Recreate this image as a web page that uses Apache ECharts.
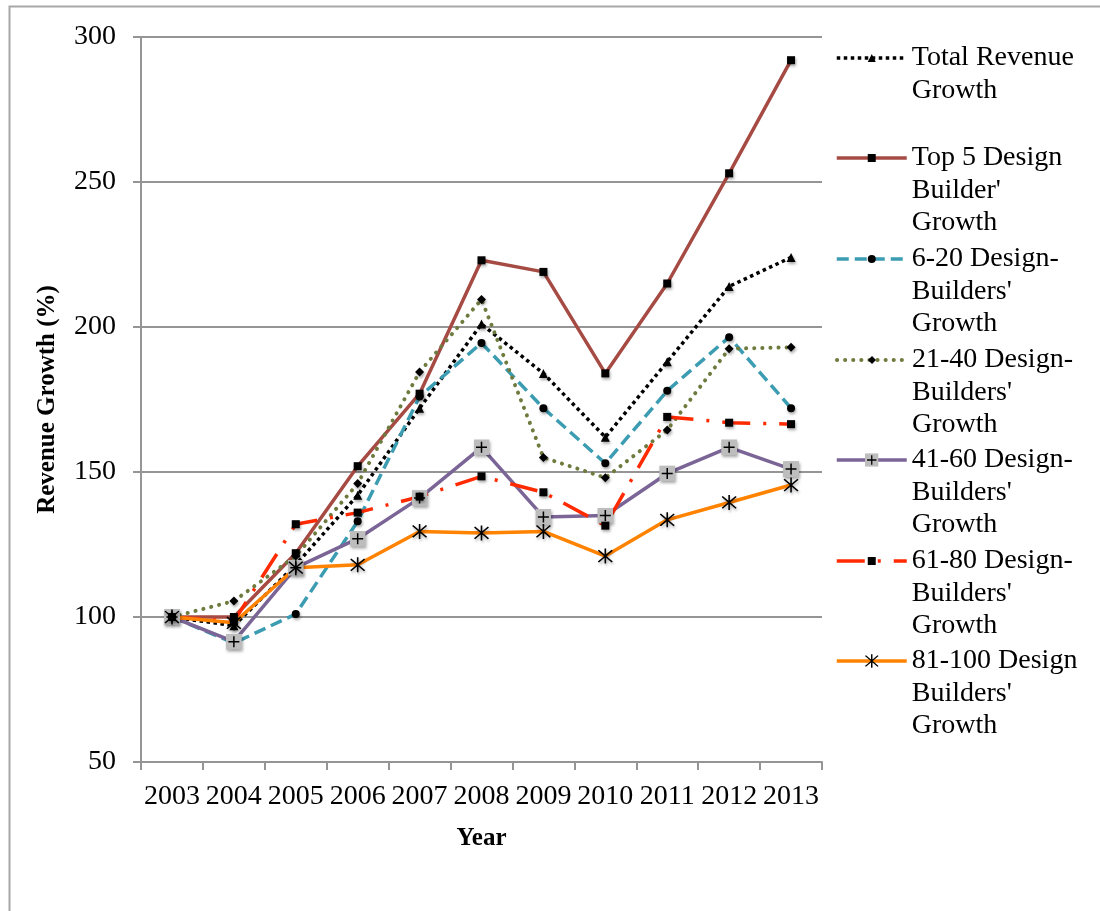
<!DOCTYPE html>
<html>
<head>
<meta charset="utf-8">
<script src="https://cdn.jsdelivr.net/npm/echarts@6/dist/echarts.min.js"></script>
<style>
  html, body { margin: 0; padding: 0; background: #ffffff; }
  #chart { width: 1100px; height: 911px; }
</style>
</head>
<body>
<div id="chart"></div>
<script>
// Revenue growth index (2003 = 100) by design-builder ranking group
const years = ['2003', '2004', '2005', '2006', '2007', '2008', '2009', '2010', '2011', '2012', '2013'];
const yTicks = { min: 50, max: 300, step: 50 };

const totalRevenue = [100, 97, 118, 142, 172, 201, 184, 162, 188, 214, 224];
const top5 = [100, 100, 122, 152, 177, 223, 219, 184, 215, 253, 292];
const rank6to20 = [100, 91, 101, 133, 176, 194.5, 172, 153, 178, 196.5, 172];
const rank21to40 = [100, 105.5, 121, 146, 184.5, 209.5, 155, 148, 164.5, 192.5, 193];
const rank41to60 = [100, 91.5, 117, 127, 141, 158.5, 134.5, 135, 149.5, 158.5, 151];
const rank61to80 = [100, 98.5, 132, 136, 141.5, 148.5, 143, 131.5, 169, 167, 166.5];
const rank81to100 = [100, 98, 117, 118, 129.5, 129, 129.5, 121, 133.5, 139.5, 145.5];

// Legend labels, one entry per wrapped line
const labelTotal = ['Total Revenue', 'Growth'];
const labelTop5 = ['Top 5 Design', "Builder'", 'Growth'];
const label6to20 = ['6-20 Design-', "Builders'", 'Growth'];
const label21to40 = ['21-40 Design-', "Builders'", 'Growth'];
const label41to60 = ['41-60 Design-', "Builders'", 'Growth'];
const label61to80 = ['61-80 Design-', "Builders'", 'Growth'];
const label81to100 = ['81-100 Design', "Builders'", 'Growth'];

const xAxisTitle = 'Year';
const yAxisTitle = 'Revenue Growth (%)';

const SERIF = '"Liberation Serif", "Times New Roman", serif';

// Marker shapes
const plusBoxSvg = "<svg xmlns='http://www.w3.org/2000/svg' width='32' height='32'>" +
  "<rect x='0' y='0' width='32' height='32' fill='#bdbdbd'/>" +
  "<path d='M16 5V27M5 16H27' stroke='#000' stroke-width='3'/></svg>";
const plusBoxSymbol = 'image://data:image/svg+xml;charset=utf-8,' + encodeURIComponent(plusBoxSvg);
const asteriskSymbol = 'path://M9.1,0L10.9,0L10.9,20L9.1,20Z' +
  'M2.8,1.5L18.5,17.2L17.2,18.5L1.5,2.8Z' +
  'M17.2,1.5L18.5,2.8L2.8,18.5L1.5,17.2Z';

const markerShadow = {
  shadowBlur: 3,
  shadowColor: 'rgba(0,0,0,0.35)',
  shadowOffsetX: 1,
  shadowOffsetY: 2
};

const groups = [
  { label: labelTotal, data: totalRevenue, color: '#000000', dash: [3.5, 3.5], cap: 'butt', width: 3.5,
    symbol: 'triangle', size: 9, legendH: 10 },
  { label: labelTop5, data: top5, color: '#a64b44', dash: 'solid', cap: 'butt', width: 3.5,
    symbol: 'rect', size: 8, legendH: 10 },
  { label: label6to20, data: rank6to20, color: '#3b9cb2', dash: [12, 6], cap: 'butt', width: 3.5,
    symbol: 'circle', size: 8, legendH: 10 },
  { label: label21to40, data: rank21to40, color: '#6e7b3f', dash: [0.1, 8], cap: 'round', width: 4,
    symbol: 'diamond', size: 9, legendH: 10 },
  { label: label41to60, data: rank41to60, color: '#7a6596', dash: 'solid', cap: 'butt', width: 3.5,
    symbol: plusBoxSymbol, size: 16, legendH: 17 },
  { label: label61to80, data: rank61to80, color: '#ff2a00', dash: [28, 13, 3, 13], cap: 'butt', width: 3.5,
    symbol: 'rect', size: 8, legendH: 10 },
  { label: label81to100, data: rank81to100, color: '#ff8200', dash: 'solid', cap: 'butt', width: 3.5,
    symbol: asteriskSymbol, size: 15, legendH: 17 }
];

const LEGEND_LINE_H = 32.5;
const LEGEND_TEXT_PAD = 5;
const legendIconY = [58, 158, 259, 360, 460, 561, 661];

const series = groups.map(g => ({
  name: g.label.join(' '),
  type: 'line',
  data: g.data,
  symbol: g.symbol,
  symbolSize: g.size,
  showSymbol: true,
  showAllSymbol: true,
  lineStyle: { color: g.color, width: g.width, type: g.dash, cap: g.cap, join: 'round' },
  itemStyle: Object.assign({ color: '#000000', borderWidth: 0 }, markerShadow),
  emphasis: { disabled: true },
  animation: false
}));

// One legend block per group so each icon lines up with the first text line
const legends = groups.map((g, i) => {
  const n = g.label.length;
  const text = '\n'.repeat(n - 1) + g.label.join('\n');
  return {
    data: [g.label.join(' ')],
    orient: 'vertical',
    left: 835,
    top: legendIconY[i] - ((2 * n - 1) * LEGEND_LINE_H + LEGEND_TEXT_PAD) / 2,
    padding: 0,
    itemGap: 0,
    itemWidth: 70,
    itemHeight: g.legendH,
    selectedMode: false,
    itemStyle: { shadowBlur: 0, shadowOffsetX: 0, shadowOffsetY: 0 },
    lineStyle: { width: g.width },
    formatter: () => text,
    textStyle: {
      fontFamily: SERIF,
      fontSize: 28,
      lineHeight: LEGEND_LINE_H,
      padding: [LEGEND_TEXT_PAD, 0, 0, 0],
      color: '#000000'
    }
  };
});

const axisGray = '#959595';

const option = {
  backgroundColor: '#ffffff',
  animation: false,
  grid: { left: 141, right: 278, top: 37, bottom: 149, containLabel: false },
  legend: legends,
  xAxis: {
    type: 'category',
    data: years,
    boundaryGap: true,
    name: xAxisTitle,
    nameLocation: 'middle',
    nameGap: 64,
    nameTextStyle: { fontFamily: SERIF, fontSize: 25, fontWeight: 'bold', color: '#000000' },
    axisLine: { show: true, lineStyle: { color: axisGray, width: 2 } },
    axisTick: { show: true, alignWithLabel: false, length: 8, inside: false, lineStyle: { color: axisGray, width: 2 } },
    axisLabel: { fontFamily: SERIF, fontSize: 28, color: '#000000', margin: 21, interval: 0 },
    splitLine: { show: false }
  },
  yAxis: {
    type: 'value',
    min: yTicks.min,
    max: yTicks.max,
    interval: yTicks.step,
    name: yAxisTitle,
    nameLocation: 'middle',
    nameGap: 81,
    nameRotate: 90,
    nameTextStyle: { fontFamily: SERIF, fontSize: 25, fontWeight: 'bold', color: '#000000' },
    axisLine: { show: true, lineStyle: { color: axisGray, width: 2 } },
    axisTick: { show: true, length: 8, inside: false, lineStyle: { color: axisGray, width: 2 } },
    axisLabel: { fontFamily: SERIF, fontSize: 28, color: '#000000', margin: 25 },
    splitLine: { show: true, lineStyle: { color: axisGray, width: 2 } }
  },
  graphic: [
    {
      type: 'rect',
      left: 7,
      top: 4,
      silent: true,
      shape: { x: 0, y: 0, width: 1200, height: 1000 },
      style: { fill: 'none', stroke: '#a8a8a8', lineWidth: 2 }
    }
  ],
  series: series
};

const chart = echarts.init(document.getElementById('chart'), null, { renderer: 'canvas' });
chart.setOption(option);
</script>
</body>
</html>
